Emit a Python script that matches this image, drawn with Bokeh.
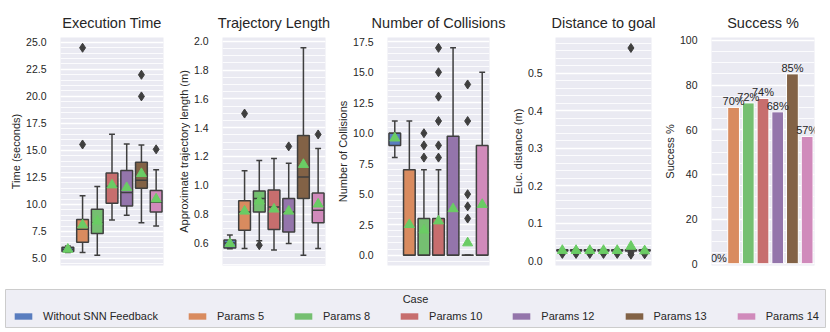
import colorsys
import numpy as np
from bokeh.plotting import figure
from bokeh.layouts import row, column
from bokeh.models import (Range1d, SingleIntervalTicker, NumeralTickFormatter, Legend,
                          LegendItem, Label, ColumnDataSource)
from bokeh.core.properties import value
from bokeh.embed import file_html
from bokeh.resources import INLINE

# ---------------- data ----------------
cases = ["Without SNN Feedback", "Params 5", "Params 8", "Params 10",
         "Params 12", "Params 13", "Params 14"]

time_low = [5.55, 5.55, 5.3, 8.55, 9.0, 8.3, 8.0]
time_q1 = [5.65, 6.5, 7.3, 10.1, 9.85, 11.5, 9.3]
time_med = [5.85, 7.7, 8.25, 11.65, 11.1, 12.25, 10.2]
time_q3 = [6.05, 8.6, 9.55, 12.9, 13.15, 13.9, 11.3]
time_high = [6.15, 10.8, 11.65, 16.5, 15.6, 15.5, 13.2]
time_mean = [5.85, 8.1, 8.45, 11.8, 11.55, 12.85, 10.5]
time_out = [[], [24.5, 15.55], [], [], [], [22.0, 20.0], [15.1]]

traj_low = [0.56, 0.561, 0.614, 0.55, 0.596, 0.515, 0.561]
traj_q1 = [0.565, 0.688, 0.815, 0.693, 0.676, 0.908, 0.739]
traj_med = [0.60, 0.815, 0.908, 0.85, 0.815, 1.058, 0.827]
traj_q3 = [0.62, 0.892, 0.961, 0.968, 0.908, 1.346, 0.947]
traj_high = [0.655, 1.10, 1.172, 1.186, 1.153, 1.954, 1.255]
traj_mean = [0.595, 0.82, 0.89, 0.834, 0.82, 1.144, 0.869]
traj_out = [[], [1.498], [0.584], [], [1.27], [], [1.353]]

coll_low = [8, 0, 0, 0, 0, 0, 0]
coll_q1 = [9, 0, 0, 0, 0, 0, 0]
coll_med = [10, 0, 0, 0, 0, 0, 0]
coll_q3 = [10, 7, 3, 3, 9.75, 0, 9]
coll_high = [11, 11, 7, 7, 17, 0, 15]
coll_mean = [9.6, 2.5, 2.05, 2.8, 3.8, 1.0, 4.15]
coll_out = [[], [], [8, 9, 10], [8, 9, 11, 13, 15, 17], [], [3, 4, 5, 11, 14], []]

dist_low = [0.022, 0.022, 0.022, 0.022, 0.022, 0.022, 0.022]
dist_q1 = [0.026, 0.026, 0.026, 0.026, 0.026, 0.026, 0.026]
dist_med = [0.027, 0.027, 0.027, 0.027, 0.027, 0.027, 0.027]
dist_q3 = [0.029, 0.029, 0.029, 0.029, 0.029, 0.029, 0.029]
dist_high = [0.031, 0.031, 0.031, 0.031, 0.031, 0.031, 0.031]
dist_mean = [0.027, 0.027, 0.027, 0.027, 0.027, 0.038, 0.026]
dist_out = [[0.018], [0.018], [0.018], [0.018], [0.018], [0.016, 0.021, 0.568], [0.017]]

success = [0, 70, 72, 74, 68, 85, 57]

# ---------------- style ----------------
muted = ["#4878D0", "#EE854A", "#6ACC64", "#D65F5F", "#956CB4", "#8C613C", "#DC7EC0"]


def desat(hexc, prop=0.75):
    r, g, b = [int(hexc[i:i + 2], 16) / 255 for i in (1, 3, 5)]
    h, l, s = colorsys.rgb_to_hls(r, g, b)
    r, g, b = colorsys.hls_to_rgb(h, l, s * prop)
    return "#%02x%02x%02x" % tuple(int(round(c * 255)) for c in (r, g, b))


colors = [desat(c) for c in muted]
MEAN_C = "#6ACC64"
FONT = "Liberation Sans"
TXT = "#262626"
BG = "#EAEAF2"
EDGE = "#3f3f3f"
H = 289


def base_fig(title, ylabel, yr, interval, minor, fmt, width, lb, rb, tick_standoff=8):
    p = figure(width=width, height=H, x_range=Range1d(-0.5, len(cases) - 0.5),
               y_range=Range1d(*yr), output_backend="svg", toolbar_location=None,
               min_border_left=lb, min_border_right=rb, min_border_top=37,
               min_border_bottom=24, background_fill_color=BG,
               border_fill_color="white", outline_line_color=None)
    p.title.text = title
    p.title.align = "center"
    p.title.text_font = FONT
    p.title.text_font_size = "14.5px"
    p.title.text_font_style = "normal"
    p.title.text_color = TXT
    p.title.standoff = 14
    p.xaxis.visible = False
    p.xgrid.visible = False
    ticker = SingleIntervalTicker(interval=interval, num_minor_ticks=minor)
    p.yaxis.ticker = ticker
    p.ygrid.ticker = ticker
    p.ygrid.grid_line_color = "white"
    p.ygrid.grid_line_width = 1.6
    p.ygrid.minor_grid_line_color = "white"
    p.ygrid.minor_grid_line_width = 0.8
    p.yaxis.axis_line_color = None
    p.yaxis.major_tick_line_color = None
    p.yaxis.minor_tick_line_color = None
    p.yaxis.formatter = NumeralTickFormatter(format=fmt)
    p.yaxis.major_label_text_font = FONT
    p.yaxis.major_label_text_font_size = "10.5px"
    p.yaxis.major_label_text_color = TXT
    p.yaxis.major_label_standoff = tick_standoff
    p.yaxis.axis_label = ylabel
    p.yaxis.axis_label_text_font = FONT
    p.yaxis.axis_label_text_font_size = "11px"
    p.yaxis.axis_label_text_font_style = "normal"
    p.yaxis.axis_label_text_color = TXT
    p.yaxis.axis_label_standoff = 1
    return p


def draw_boxes(p, low, q1, med, q3, high, mean, outs):
    x = np.arange(len(cases), dtype=float)
    half, cap = 0.4, 0.2
    src = ColumnDataSource(dict(x=x, low=low, q1=q1, med=med, q3=q3, high=high,
                                mean=mean, color=colors, x0=x - half, x1=x + half,
                                c0=x - cap, c1=x + cap))
    kw = dict(source=src, line_color=EDGE, line_width=1.5)
    p.segment(x0="x", y0="q3", x1="x", y1="high", **kw)
    p.segment(x0="x", y0="q1", x1="x", y1="low", **kw)
    p.segment(x0="c0", y0="high", x1="c1", y1="high", **kw)
    p.segment(x0="c0", y0="low", x1="c1", y1="low", **kw)
    p.vbar(x="x", bottom="q1", top="q3", width=2 * half, fill_color="color", **kw)
    p.segment(x0="x0", y0="med", x1="x1", y1="med", **kw)
    ox = [i for i, o in enumerate(outs) for _ in o]
    oy = [v for o in outs for v in o]
    p.scatter(ox, oy, marker="diamond", size=9, fill_color=EDGE, line_color=EDGE)
    p.scatter(x="x", y="mean", source=src, marker="triangle", size=10,
              fill_color=MEAN_C, line_color=MEAN_C)


p1 = base_fig("Execution Time", "Time (seconds)", (4.35, 25.45), 2.5, 5, "0.0", 165, 60, 2)
draw_boxes(p1, time_low, time_q1, time_med, time_q3, time_high, time_mean, time_out)

p2 = base_fig("Trajectory Length", "Approximate trajectory length (m)", (0.443, 2.026), 0.2, 4, "0.0", 169, 57, 9)
draw_boxes(p2, traj_low, traj_q1, traj_med, traj_q3, traj_high, traj_mean, traj_out)

p3 = base_fig("Number of Collisions", "Number of Collisions", (-0.85, 17.85), 2.5, 5, "0.0", 174, 51, 19)
draw_boxes(p3, coll_low, coll_q1, coll_med, coll_q3, coll_high, coll_mean, coll_out)

p4 = base_fig("Distance to goal", "Euc. distance (m)", (-0.013, 0.596), 0.1, 5, "0.0", 150, 40, 7,
              tick_standoff=7)
draw_boxes(p4, dist_low, dist_q1, dist_med, dist_q3, dist_high, dist_mean, dist_out)

p5 = base_fig("Success %", "Success %", (-0.8, 101.3), 20, 4, "0", 172, 53, 16)
bsrc = ColumnDataSource(dict(x=np.arange(len(cases), dtype=float), top=success, color=colors,
                             label=["%d%%" % v for v in success]))
p5.vbar(x="x", top="top", width=0.8, fill_color="color", line_color="white",
        line_width=1, source=bsrc)
p5.text(x="x", y="top", text="label", source=bsrc, text_align="center",
        text_baseline="bottom", text_font=value(FONT), text_font_size="11px",
        text_color=TXT)

# ---------------- legend ----------------
lf = figure(width=830, height=39, x_range=Range1d(0, 1), y_range=Range1d(0, 1),
            output_backend="svg", toolbar_location=None, min_border_left=5,
            min_border_right=5, min_border_top=0, min_border_bottom=1,
            x_axis_location=None, y_axis_location=None,
            background_fill_color="#EEEEF5", outline_line_color="#CCCCCC",
            border_fill_color="white")
lf.grid.visible = False
proxy = lf.vbar(x="x", top="top", width=0.8, fill_color="color", line_color=None,
                source=bsrc, visible=False)
items = [LegendItem(label=c, renderers=[proxy], index=i) for i, c in enumerate(cases)]
legend = Legend(items=items, orientation="horizontal", location=(7, 5),
                glyph_width=22, glyph_height=8, label_standoff=9, spacing=28,
                padding=0, margin=0, label_height=12, label_width=10,
                label_text_font=FONT, label_text_font_size="11px",
                label_text_color=TXT, border_line_color=None,
                background_fill_alpha=0)
lf.add_layout(legend)
lf.add_layout(Label(x=410, y=29, x_units="screen", y_units="screen", text="Case",
                    text_align="center", text_baseline="middle", text_font=FONT,
                    text_font_size="11px", text_color=TXT))

layout = column(row(p1, p2, p3, p4, p5), lf)
open("out.html", "w").write(file_html(layout, INLINE))
